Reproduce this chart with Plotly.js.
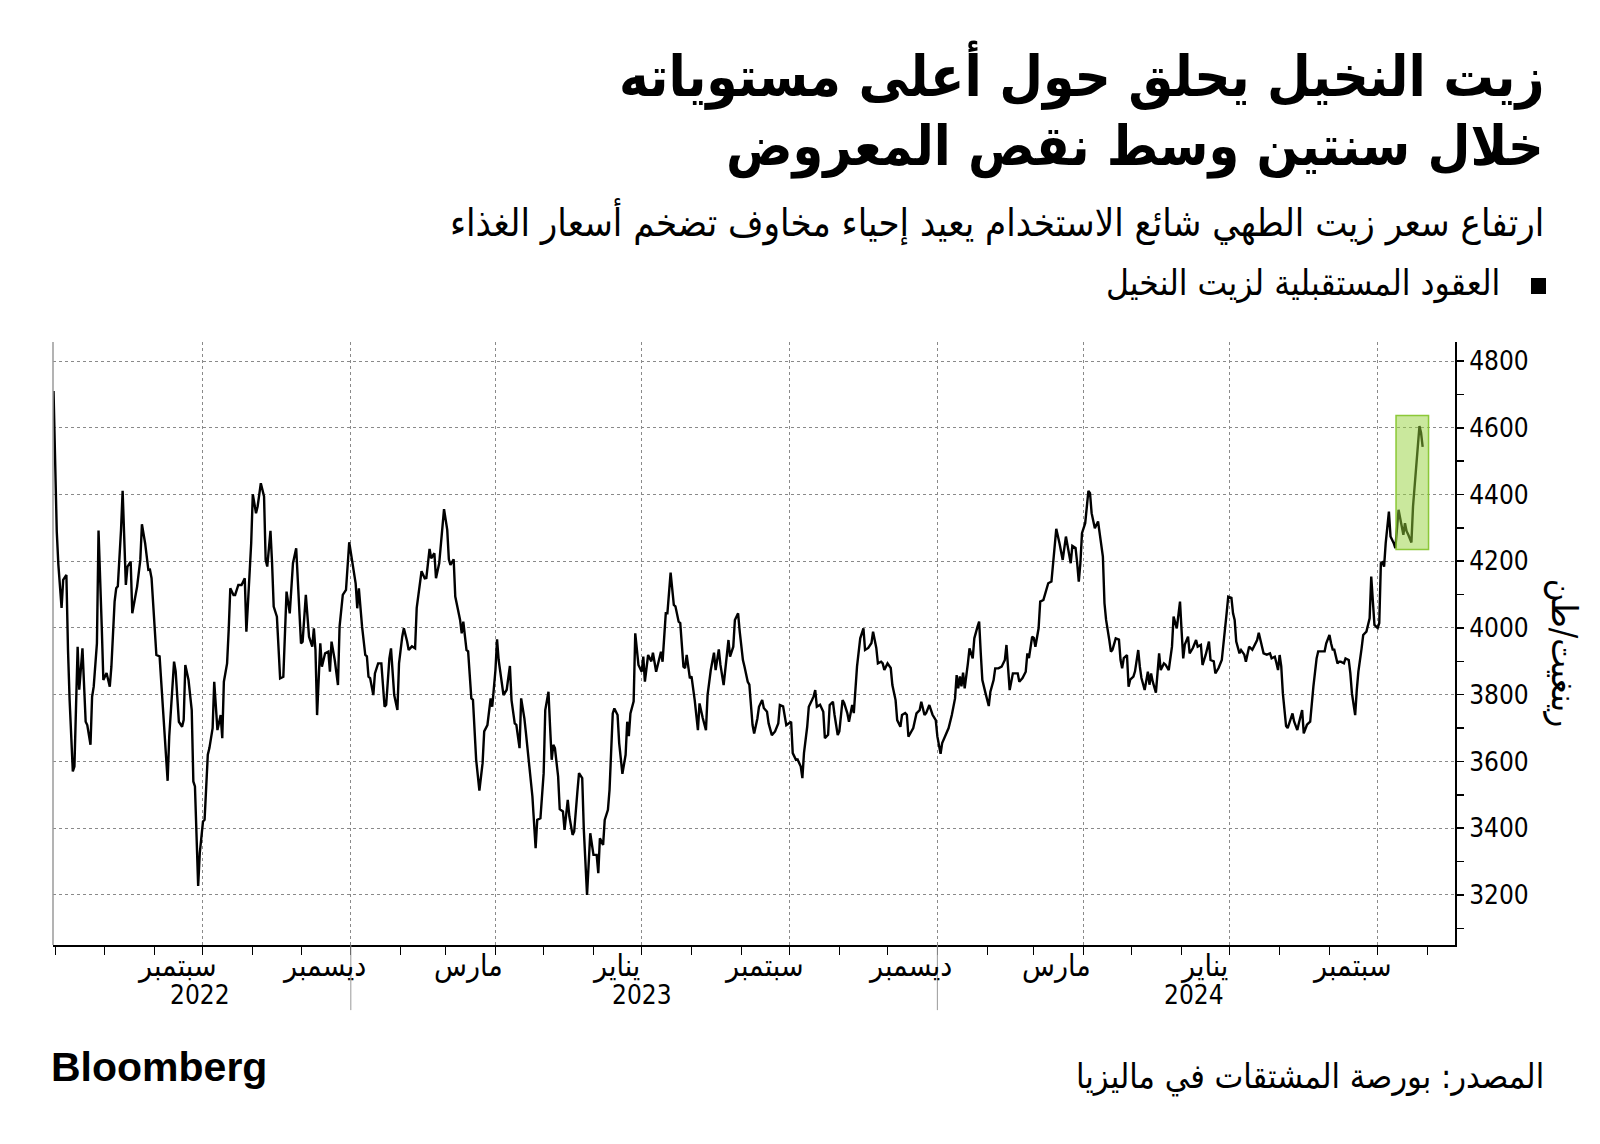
<!DOCTYPE html>
<html>
<head>
<meta charset="utf-8">
<script src="https://cdn.plot.ly/plotly-3.0.1.min.js"></script>
<style>html,body{margin:0;padding:0;background:#fff;}#chart{width:1600px;height:1144px;}</style>
</head>
<body>
<div id="chart"></div>
<script>
// ---- Data (Palm oil futures, ringgit per tonne) ----
const dates = [
'2022-06-30','2022-07-01','2022-07-02','2022-07-03','2022-07-05','2022-07-06','2022-07-08','2022-07-09','2022-07-10','2022-07-12',
'2022-07-13','2022-07-15','2022-07-16','2022-07-18','2022-07-20','2022-07-21','2022-07-23','2022-07-24','2022-07-25','2022-07-27',
'2022-07-28','2022-07-30','2022-07-31','2022-08-02','2022-08-04','2022-08-05','2022-08-06','2022-08-07','2022-08-08','2022-08-09',
'2022-08-11','2022-08-12','2022-08-14','2022-08-15','2022-08-17','2022-08-18','2022-08-21','2022-08-23','2022-08-24','2022-08-26',
'2022-08-28','2022-08-29','2022-08-30','2022-09-01','2022-09-02','2022-09-04','2022-09-06','2022-09-09','2022-09-10','2022-09-13',
'2022-09-14','2022-09-16','2022-09-18','2022-09-19','2022-09-20','2022-09-22','2022-09-24','2022-09-25','2022-09-26','2022-09-28',
'2022-09-29','2022-10-01','2022-10-02','2022-10-04','2022-10-05','2022-10-07','2022-10-08','2022-10-10','2022-10-12','2022-10-13',
'2022-10-14','2022-10-16','2022-10-17','2022-10-18','2022-10-20','2022-10-21','2022-10-23','2022-10-25','2022-10-27','2022-10-28',
'2022-10-29','2022-10-31','2022-11-01','2022-11-03','2022-11-04','2022-11-06','2022-11-08','2022-11-09','2022-11-10','2022-11-12',
'2022-11-13','2022-11-14','2022-11-16','2022-11-18','2022-11-20','2022-11-21','2022-11-22','2022-11-24','2022-11-26','2022-11-28',
'2022-11-29','2022-12-01','2022-12-02','2022-12-04','2022-12-06','2022-12-08','2022-12-09','2022-12-10','2022-12-11','2022-12-13',
'2022-12-14','2022-12-16','2022-12-18','2022-12-19','2022-12-20','2022-12-22','2022-12-24','2022-12-25','2022-12-27','2022-12-29',
'2022-12-31','2023-01-02','2023-01-04','2023-01-05','2023-01-06','2023-01-08','2023-01-10','2023-01-11','2023-01-12','2023-01-13',
'2023-01-15','2023-01-16','2023-01-18','2023-01-20','2023-01-22','2023-01-23','2023-01-25','2023-01-26','2023-01-28','2023-01-30',
'2023-01-31','2023-02-02','2023-02-03','2023-02-05','2023-02-06','2023-02-08','2023-02-10','2023-02-11','2023-02-13','2023-02-14',
'2023-02-16','2023-02-17','2023-02-19','2023-02-20','2023-02-22','2023-02-23','2023-02-25','2023-02-27','2023-02-28','2023-03-02',
'2023-03-03','2023-03-04','2023-03-06','2023-03-07','2023-03-10','2023-03-11','2023-03-12','2023-03-14','2023-03-15','2023-03-17',
'2023-03-18','2023-03-20','2023-03-22','2023-03-24','2023-03-25','2023-03-27','2023-03-29','2023-03-30','2023-04-01','2023-04-02',
'2023-04-03','2023-04-05','2023-04-06','2023-04-08','2023-04-10','2023-04-11','2023-04-13','2023-04-14','2023-04-16','2023-04-17',
'2023-04-19','2023-04-20','2023-04-22','2023-04-24','2023-04-26','2023-04-27','2023-04-29','2023-05-01','2023-05-02','2023-05-04',
'2023-05-05','2023-05-06','2023-05-07','2023-05-08','2023-05-10','2023-05-11','2023-05-13','2023-05-14','2023-05-16','2023-05-17',
'2023-05-19','2023-05-20','2023-05-22','2023-05-23','2023-05-25','2023-05-26','2023-05-28','2023-05-29','2023-05-30','2023-06-01',
'2023-06-03','2023-06-04','2023-06-05','2023-06-07','2023-06-08','2023-06-10','2023-06-11','2023-06-13','2023-06-14','2023-06-16',
'2023-06-17','2023-06-19','2023-06-21','2023-06-22','2023-06-23','2023-06-24','2023-06-25','2023-06-26','2023-06-27','2023-06-29',
'2023-07-01','2023-07-02','2023-07-03','2023-07-05','2023-07-07','2023-07-08','2023-07-10','2023-07-11','2023-07-13','2023-07-14',
'2023-07-16','2023-07-17','2023-07-18','2023-07-19','2023-07-21','2023-07-22','2023-07-24','2023-07-25','2023-07-27','2023-07-28',
'2023-07-29','2023-07-31','2023-08-01','2023-08-03','2023-08-05','2023-08-06','2023-08-08','2023-08-10','2023-08-11','2023-08-13',
'2023-08-15','2023-08-16','2023-08-18','2023-08-19','2023-08-21','2023-08-22','2023-08-24','2023-08-25','2023-08-27','2023-08-28',
'2023-08-30','2023-08-31','2023-09-02','2023-09-03','2023-09-05','2023-09-06','2023-09-08','2023-09-09','2023-09-11','2023-09-12',
'2023-09-14','2023-09-15','2023-09-17','2023-09-18','2023-09-20','2023-09-22','2023-09-24','2023-09-25','2023-09-27','2023-09-29',
'2023-09-30','2023-10-02','2023-10-03','2023-10-05','2023-10-06','2023-10-08','2023-10-09','2023-10-10','2023-10-12','2023-10-13',
'2023-10-15','2023-10-16','2023-10-17','2023-10-18','2023-10-20','2023-10-22','2023-10-23','2023-10-25','2023-10-26','2023-10-28',
'2023-10-29','2023-10-31','2023-11-01','2023-11-03','2023-11-04','2023-11-06','2023-11-07','2023-11-09','2023-11-10','2023-11-11',
'2023-11-12','2023-11-14','2023-11-16','2023-11-17','2023-11-19','2023-11-21','2023-11-22','2023-11-24','2023-11-25','2023-11-27',
'2023-11-28','2023-11-29','2023-12-01','2023-12-03','2023-12-04','2023-12-06','2023-12-07','2023-12-09','2023-12-10','2023-12-12',
'2023-12-13','2023-12-14','2023-12-16','2023-12-17','2023-12-19','2023-12-21','2023-12-22','2023-12-24','2023-12-25','2023-12-27',
'2023-12-29','2023-12-31','2024-01-01','2024-01-03','2024-01-04','2024-01-06','2024-01-07','2024-01-08','2024-01-10','2024-01-12',
'2024-01-13','2024-01-14','2024-01-15','2024-01-16','2024-01-17','2024-01-18','2024-01-20','2024-01-21','2024-01-23','2024-01-24',
'2024-01-26','2024-01-27','2024-01-28','2024-01-29','2024-01-31','2024-02-02','2024-02-03','2024-02-05','2024-02-06','2024-02-08',
'2024-02-10','2024-02-12','2024-02-13','2024-02-14','2024-02-15','2024-02-17','2024-02-18','2024-02-20','2024-02-21','2024-02-23',
'2024-02-25','2024-02-26','2024-02-27','2024-02-29','2024-03-01','2024-03-02','2024-03-04','2024-03-05','2024-03-07','2024-03-08',
'2024-03-10','2024-03-12','2024-03-13','2024-03-15','2024-03-17','2024-03-19','2024-03-21','2024-03-22','2024-03-24','2024-03-25',
'2024-03-27','2024-03-28','2024-03-29','2024-03-30','2024-03-31','2024-04-02','2024-04-04','2024-04-05','2024-04-06','2024-04-08',
'2024-04-10','2024-04-11','2024-04-13','2024-04-14','2024-04-15','2024-04-17','2024-04-18','2024-04-19','2024-04-21','2024-04-23',
'2024-04-24','2024-04-25','2024-04-26','2024-04-28','2024-04-29','2024-04-30','2024-05-02','2024-05-03','2024-05-05','2024-05-06',
'2024-05-07','2024-05-09','2024-05-11','2024-05-12','2024-05-13','2024-05-14','2024-05-16','2024-05-17','2024-05-18','2024-05-19',
'2024-05-21','2024-05-22','2024-05-24','2024-05-26','2024-05-27','2024-05-29','2024-05-31','2024-06-01','2024-06-02','2024-06-03',
'2024-06-05','2024-06-06','2024-06-08','2024-06-10','2024-06-11','2024-06-13','2024-06-14','2024-06-16','2024-06-18','2024-06-19',
'2024-06-21','2024-06-22','2024-06-24','2024-06-26','2024-06-27','2024-06-29','2024-06-30','2024-07-02','2024-07-03','2024-07-04',
'2024-07-05','2024-07-07','2024-07-08','2024-07-10','2024-07-11','2024-07-13','2024-07-15','2024-07-16','2024-07-18','2024-07-19',
'2024-07-21','2024-07-22','2024-07-24','2024-07-26','2024-07-27','2024-07-29','2024-07-30','2024-07-31','2024-08-01','2024-08-02',
'2024-08-03','2024-08-05','2024-08-06','2024-08-07','2024-08-09','2024-08-10','2024-08-12','2024-08-13','2024-08-14','2024-08-15',
'2024-08-16','2024-08-18','2024-08-19','2024-08-20','2024-08-22','2024-08-23','2024-08-24','2024-08-25','2024-08-27','2024-08-29',
'2024-08-30','2024-09-01','2024-09-02','2024-09-03','2024-09-04','2024-09-06','2024-09-07','2024-09-08','2024-09-10','2024-09-11',
'2024-09-13','2024-09-14','2024-09-15','2024-09-17','2024-09-18','2024-09-19','2024-09-21','2024-09-22','2024-09-24','2024-09-26',
'2024-09-27','2024-09-28','2024-09-29','2024-10-01','2024-10-02','2024-10-03','2024-10-04','2024-10-05','2024-10-06','2024-10-08',
'2024-10-09','2024-10-11','2024-10-12','2024-10-14','2024-10-15','2024-10-17','2024-10-18','2024-10-19','2024-10-20','2024-10-22',
'2024-10-23','2024-10-25','2024-10-27','2024-10-28','2024-10-29'
];
const prices = [
4710,4450,4290,4190,4060,4144,4159,3934,3784,3570,
3585,3944,3815,3939,3719,3709,3650,3794,3824,3954,
4292,4004,3844,3865,3824,3884,4004,4079,4119,4125,
4294,4411,4129,4184,4199,4044,4124,4204,4311,4254,
4174,4175,4149,4004,3919,3915,3754,3542,3675,3899,
3870,3719,3704,3725,3889,3844,3754,3540,3525,3227,
3325,3420,3425,3620,3640,3700,3839,3694,3739,3670,
3839,3894,3994,4119,4099,4099,4129,4129,4149,3989,
4074,4254,4401,4344,4364,4434,4394,4204,4184,4291,
4194,4064,4034,3849,3854,4014,4109,4044,4194,4239,
4134,3954,3959,4099,3974,3944,3999,3934,3739,3954,
3884,3924,3929,3869,3959,3904,3829,4004,4099,4114,
4257,4194,4134,4059,4119,4004,3919,3915,3854,3850,
3799,3864,3894,3894,3764,3770,3909,3939,3799,3754,
3894,3974,3999,3960,3934,3945,3939,4060,4134,4170,
4149,4150,4237,4209,4224,4149,4194,4304,4356,4294,
4206,4189,4206,4094,4024,3984,4019,3934,3930,3789,
3785,3605,3513,3595,3690,3709,3789,3764,3874,3966,
3904,3834,3799,3815,3886,3784,3714,3710,3640,3789,
3729,3684,3595,3495,3340,3425,3430,3565,3754,3809,
3704,3605,3650,3640,3555,3457,3450,3395,3485,3435,
3380,3390,3510,3565,3550,3395,3200,3285,3385,3320,
3320,3265,3370,3350,3425,3455,3515,3744,3759,3739,
3655,3563,3620,3719,3676,3744,3764,3780,3984,3889,
3869,3914,3839,3919,3900,3926,3869,3890,3929,3899,
4044,4044,4099,4166,4069,4065,4019,4015,3884,3880,
3919,3849,3855,3784,3694,3774,3730,3694,3799,3874,
3926,3874,3936,3890,3829,3874,3964,3914,3944,4024,
4044,3990,3904,3884,3839,3830,3709,3684,3729,3764,
3784,3760,3749,3714,3679,3690,3714,3769,3765,3709,
3712,3719,3625,3605,3606,3585,3550,3625,3704,3764,
3784,3795,3814,3764,3770,3749,3670,3680,3769,3779,
3740,3679,3690,3784,3775,3744,3719,3769,3745,3814,
3884,3969,3999,3934,3940,3955,3989,3940,3894,3899,
3894,3874,3894,3880,3829,3784,3724,3704,3739,3745,
3740,3674,3694,3700,3744,3754,3779,3739,3745,3769,
3740,3724,3675,3623,3655,3680,3690,3700,3739,3789,
3859,3819,3855,3825,3866,3819,3894,3939,3909,3969,
4004,4019,3925,3844,3804,3766,3809,3844,3879,3879,
3884,3904,3949,3864,3814,3864,3864,3864,3839,3850,
3869,3924,3910,3974,3970,3944,3999,4079,4084,4100,
4134,4139,4194,4297,4254,4204,4274,4249,4194,4246,
4240,4195,4139,4194,4284,4314,4411,4404,4344,4299,
4319,4284,4214,4074,4024,3964,3929,3935,3969,3965,
3904,3879,3910,3919,3824,3845,3854,3870,3934,3884,
3850,3814,3869,3830,3864,3840,3806,3865,3924,3874,
3894,3890,3874,3944,4034,3999,4079,3990,3909,3950,
3974,3924,3940,3964,3944,3949,3889,3920,3959,3904,
3900,3864,3880,3904,3959,4044,4094,4090,4044,4024,
3959,3924,3934,3920,3899,3944,3935,3944,3964,3986,
3950,3924,3920,3924,3909,3914,3895,3874,3919,3885,
3804,3706,3700,3715,3744,3720,3694,3715,3735,3754,
3684,3710,3715,3719,3824,3864,3909,3930,3929,3930,
3954,3979,3954,3935,3935,3894,3899,3899,3894,3909,
3904,3864,3804,3739,3814,3869,3939,3979,3989,4029,
4154,4080,4009,4000,4015,4194,4197,4184,4254,4349,
4274,4254,4239,4354,4330,4279,4314,4290,4280,4256,
4364,4494,4605,4585,4543
];

// Axis labels
const gridDates = ['2022-10-01','2023-01-01','2023-04-01','2023-07-01','2023-10-01','2024-01-01','2024-04-01','2024-07-01','2024-10-01'];
const monthLabels = ['سبتمبر','ديسمبر','مارس','يناير','سبتمبر','ديسمبر','مارس','يناير','سبتمبر'];
const monthLabelDates = ['2022-09-15','2022-12-15','2023-03-15','2023-06-15','2023-09-15','2023-12-15','2024-03-15','2024-06-15','2024-09-15'];
const yearLabels = ['2022','2023','2024'];
const yearLabelDates = ['2022-09-29','2023-07-01','2024-06-09'];
const yearDividers = ['2023-01-01','2024-01-01'];
const yTicks = [3200,3400,3600,3800,4000,4200,4400,4600,4800];

// Highlight (latest surge)
const hlStart = '2024-10-12 10:00', hlEnd = '2024-11-01 16:00', hlLow = 4235, hlHigh = 4637;

const titleLine1 = 'زيت النخيل يحلق حول أعلى مستوياته';
const titleLine2 = 'خلال سنتين وسط نقص المعروض';
const subtitle = 'ارتفاع سعر زيت الطهي شائع الاستخدام يعيد إحياء مخاوف تضخم أسعار الغذاء';
const legendText = 'العقود المستقبلية لزيت النخيل';
const sourceText = 'المصدر: بورصة المشتقات في ماليزيا';
const yTitle = 'رينغيت/طن';

const AR = 'DejaVu Sans Condensed, DejaVu Sans, sans-serif';

const annotations = [];
annotations.push({xref:'paper',yref:'paper',x:1.0649,y:1.4420,xanchor:'right',yanchor:'middle',showarrow:false,
  text:titleLine1,font:{family:AR,size:56,color:'#000',weight:'bold'}});
annotations.push({xref:'paper',yref:'paper',x:1.0649,y:1.3240,xanchor:'right',yanchor:'middle',showarrow:false,
  text:titleLine2,font:{family:AR,size:55,color:'#000',weight:'bold'}});
annotations.push({xref:'paper',yref:'paper',x:1.0649,y:1.199,xanchor:'right',yanchor:'middle',showarrow:false,
  text:subtitle,font:{family:AR,size:38,color:'#000'}});
annotations.push({xref:'paper',yref:'paper',x:1.0335,y:1.0962,xanchor:'right',yanchor:'middle',showarrow:false,
  text:legendText,font:{family:AR,size:35,color:'#000'}});
annotations.push({xref:'paper',yref:'paper',x:1.0649,y:-0.2189,xanchor:'right',yanchor:'middle',showarrow:false,
  text:sourceText,font:{family:AR,size:34,color:'#000'}});
annotations.push({xref:'paper',yref:'paper',x:-0.003,y:-0.2023,xanchor:'left',yanchor:'middle',showarrow:false,
  text:'Bloomberg',font:{family:'Liberation Sans, Arial, sans-serif',size:41,color:'#000',weight:'bold'}});
annotations.push({xref:'paper',yref:'paper',x:1.078,y:0.4842,xanchor:'center',yanchor:'middle',showarrow:false,textangle:90,
  text:yTitle,font:{family:AR,size:35,color:'#000'}});
monthLabels.forEach((t,i)=>annotations.push({xref:'x',yref:'paper',x:monthLabelDates[i],y:-0.0332,xanchor:'center',yanchor:'middle',
  showarrow:false,text:t,font:{family:AR,size:30,color:'#000'}}));
yearLabels.forEach((t,i)=>annotations.push({xref:'x',yref:'paper',x:yearLabelDates[i],y:-0.0829,xanchor:'center',yanchor:'middle',
  showarrow:false,text:t,font:{family:AR,size:26,color:'#000'}}));

const shapes = [
  {type:'line',xref:'paper',yref:'paper',x0:0,x1:0,y0:0,y1:1,line:{color:'#9a9a9a',width:1.5}},
  {type:'rect',xref:'paper',yref:'paper',x0:1.0542,x1:1.0649,y0:1.0796,y1:1.1061,fillcolor:'#000',line:{width:0}},
  {type:'rect',xref:'x',yref:'y',x0:hlStart,x1:hlEnd,y0:hlLow,y1:hlHigh,layer:'above',
    fillcolor:'rgba(150,210,60,0.5)',line:{color:'rgba(130,195,40,0.9)',width:1.5}}
];
yearDividers.forEach(d=>shapes.push({type:'line',xref:'x',yref:'paper',x0:d,x1:d,y0:0,y1:-0.108,line:{color:'#999',width:1}}));

const trace = {x:dates,y:prices,type:'scatter',mode:'lines',line:{color:'#000',width:2.4},hoverinfo:'skip'};

const layout = {
  width:1600,height:1144,
  margin:{l:53,r:145,t:342,b:199,pad:0},
  paper_bgcolor:'#fff',plot_bgcolor:'#fff',showlegend:false,
  xaxis:{type:'date',range:['2022-06-29 16:00','2024-11-18 03:00'],tickmode:'array',tickvals:gridDates,showticklabels:false,
    ticks:'outside',ticklen:8,tickwidth:1,tickcolor:'#000',
    showgrid:true,gridcolor:'#8a8a8a',gridwidth:1,griddash:'dot',
    showline:true,linecolor:'#000',linewidth:2,zeroline:false,fixedrange:true,
    minor:{dtick:'M1',tick0:'2022-07-01',ticks:'outside',ticklen:8,tickwidth:1,tickcolor:'#000',showgrid:false}},
  yaxis:{side:'right',range:[3050,4857],tickmode:'array',tickvals:yTicks,
    ticks:'outside',ticklen:7,tickwidth:1.5,tickcolor:'#000',
    tickfont:{family:'DejaVu Sans Condensed, DejaVu Sans',size:26,color:'#000'},
    showgrid:true,gridcolor:'#8a8a8a',gridwidth:1,griddash:'3px,3px',
    showline:true,linecolor:'#000',linewidth:2,zeroline:false,fixedrange:true,
    minor:{dtick:100,tick0:3000,ticks:'outside',ticklen:7,tickwidth:1.5,tickcolor:'#000',showgrid:false}},
  annotations:annotations,
  shapes:shapes
};

Plotly.newPlot('chart',[trace],layout,{displayModeBar:false,staticPlot:true});
</script>
</body>
</html>
